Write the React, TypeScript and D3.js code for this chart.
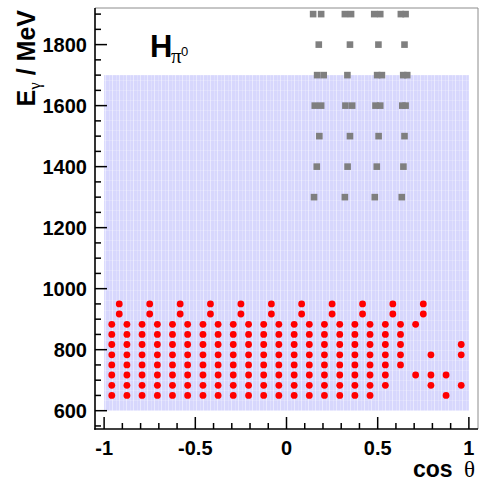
import React from "react";
import * as d3 from "d3";

// ---- data ----
const fullColumnE = [650, 683, 717, 750, 783, 817, 850, 883];
const topPairE = [917, 950];

const fullColumnsCos = [
  -0.958, -0.875, -0.792, -0.708, -0.625, -0.542, -0.458, -0.375, -0.292,
  -0.208, -0.125, -0.042, 0.042, 0.125, 0.208, 0.292, 0.375, 0.458,
];
const topPairCos = [-0.917, -0.75, -0.583, -0.417, -0.25, -0.083, 0.083, 0.25, 0.417, 0.583, 0.75];

const partialColumns: { cos: number; e: number[] }[] = [
  { cos: 0.542, e: [683, 717, 750, 783, 817, 850, 883] },
  { cos: 0.625, e: [750, 783, 817, 850, 883] },
  { cos: 0.708, e: [717, 883] },
  { cos: 0.792, e: [683, 717, 783] },
  { cos: 0.875, e: [650, 717] },
  { cos: 0.958, e: [683, 783, 817] },
];

const graySquares: [number, number][] = [
  [0.146, 1900], [0.19, 1900], [0.32, 1900], [0.354, 1900], [0.481, 1900], [0.514, 1900], [0.627, 1900], [0.653, 1900],
  [0.177, 1800], [0.348, 1800], [0.504, 1800], [0.647, 1800],
  [0.168, 1700], [0.204, 1700], [0.334, 1700], [0.497, 1700], [0.523, 1700], [0.64, 1700], [0.662, 1700],
  [0.155, 1600], [0.19, 1600], [0.323, 1600], [0.36, 1600], [0.488, 1600], [0.514, 1600], [0.635, 1600], [0.653, 1600],
  [0.18, 1500], [0.348, 1500], [0.505, 1500], [0.647, 1500],
  [0.166, 1400], [0.335, 1400], [0.495, 1400], [0.641, 1400],
  [0.151, 1300], [0.32, 1300], [0.484, 1300], [0.632, 1300],
];

const coverageCos = [-1, 1];
const coverageE = [600, 1700];

const xMajorTicks = [-1, -0.5, 0, 0.5, 1];
const xMajorLabels = ["-1", "-0.5", "0", "0.5", "1"];
const xMinorTicks = [-0.9, -0.8, -0.7, -0.6, -0.4, -0.3, -0.2, -0.1, 0.1, 0.2, 0.3, 0.4, 0.6, 0.7, 0.8, 0.9];
const yMajorTicks = [600, 800, 1000, 1200, 1400, 1600, 1800];
const yMajorLabels = ["600", "800", "1000", "1200", "1400", "1600", "1800"];
const yMinorTicks = [550, 650, 700, 750, 850, 900, 950, 1050, 1100, 1150, 1250, 1300, 1350, 1450, 1500, 1550, 1650, 1700, 1750, 1850, 1900];

const xDomain = [-1.05, 1.05];
const yDomain = [540, 1920];

export default function App() {
  const left = 95, right = 478, top = 8, bottom = 429;
  const x = d3.scaleLinear().domain(xDomain).range([left, right]);
  const y = d3.scaleLinear().domain(yDomain).range([bottom, top]);
  const font = "'Liberation Sans', Arial, sans-serif";
  const serif = "'Liberation Serif', 'Times New Roman', serif";

  const redPoints: [number, number][] = [];
  fullColumnsCos.forEach((c) => fullColumnE.forEach((e) => redPoints.push([c, e])));
  topPairCos.forEach((c) => topPairE.forEach((e) => redPoints.push([c, e])));
  partialColumns.forEach((col) => col.e.forEach((e) => redPoints.push([col.cos, e])));

  const sq = 6.6;

  return (
    <svg width={490} height={486} style={{ position: "absolute", left: 0, top: 0 }}>
      <defs>
        <pattern id="tex" width={7} height={10} patternUnits="userSpaceOnUse">
          <rect width={7} height={10} fill="#d7d7fd" />
          <rect x={0} y={0} width={1} height={10} fill="#ffffff" opacity={0.45} />
          <rect x={4} y={0} width={1} height={10} fill="#ffffff" opacity={0.2} />
          <rect x={0} y={0} width={7} height={1} fill="#ffffff" opacity={0.2} />
        </pattern>
      </defs>
      <rect x={0} y={0} width={490} height={486} fill="#ffffff" />
      {/* coverage region */}
      <rect
        x={x(coverageCos[0])}
        y={y(coverageE[1])}
        width={x(coverageCos[1]) - x(coverageCos[0])}
        height={y(coverageE[0]) - y(coverageE[1])}
        fill="url(#tex)"
      />
      {/* gray squares */}
      {graySquares.map(([c, e], i) => (
        <rect key={"g" + i} x={x(c) - sq / 2} y={y(e) - sq / 2} width={sq} height={sq} fill="#7f7f7f" />
      ))}
      {/* red points */}
      {redPoints.map(([c, e], i) => (
        <circle key={"r" + i} cx={x(c)} cy={y(e)} r={3.4} fill="#ff0000" />
      ))}
      {/* frame */}
      <line x1={left} y1={top} x2={right} y2={top} stroke="#8c8c8c" strokeWidth={1} />
      <line x1={right} y1={top} x2={right} y2={bottom} stroke="#8c8c8c" strokeWidth={1} />
      <line x1={left} y1={top} x2={left} y2={bottom + 0.75} stroke="#000" strokeWidth={1.6} />
      <line x1={left - 0.75} y1={bottom} x2={right} y2={bottom} stroke="#000" strokeWidth={1.6} />
      {/* x ticks */}
      {xMajorTicks.map((t, i) => (
        <g key={"xm" + i}>
          <line x1={x(t)} x2={x(t)} y1={bottom} y2={bottom - 12} stroke="#000" strokeWidth={1.5} />
          <text x={x(t)} y={455} textAnchor="middle" fontFamily={font} fontWeight="bold" fontSize={20}>
            {xMajorLabels[i]}
          </text>
        </g>
      ))}
      {xMinorTicks.map((t, i) => (
        <line key={"xn" + i} x1={x(t)} x2={x(t)} y1={bottom} y2={bottom - 6} stroke="#000" strokeWidth={1.5} />
      ))}
      {/* y ticks */}
      {yMajorTicks.map((t, i) => (
        <g key={"ym" + i}>
          <line x1={left} x2={left + 12} y1={y(t)} y2={y(t)} stroke="#000" strokeWidth={1.5} />
          <text x={87} y={y(t) + 7} textAnchor="end" fontFamily={font} fontWeight="bold" fontSize={20}>
            {yMajorLabels[i]}
          </text>
        </g>
      ))}
      {yMinorTicks.map((t, i) => (
        <line key={"yn" + i} x1={left} x2={left + 6} y1={y(t)} y2={y(t)} stroke="#000" strokeWidth={1.5} />
      ))}
      {/* axis titles */}
      <text x={413} y={477} fontFamily={font} fontWeight="bold" fontSize={23}>
        cos
      </text>
      <text x={464} y={477} fontFamily={serif} fontSize={23}>
        θ
      </text>
      <text transform="translate(35,10) rotate(-90)" textAnchor="end" fontFamily={font} fontWeight="bold" fontSize={25}>
        E
        <tspan fontFamily={serif} fontWeight="normal" fontSize={17} dy={5}>γ</tspan>
        <tspan dy={-5}> / MeV</tspan>
      </text>
      {/* label */}
      <text x={150} y={57} fontFamily={font} fontWeight="bold" fontSize={31}>
        H
      </text>
      <text x={171} y={63} fontFamily={serif} fontSize={21}>
        π
      </text>
      <text x={181} y={56} fontFamily={font} fontSize={13}>
        0
      </text>
    </svg>
  );
}
